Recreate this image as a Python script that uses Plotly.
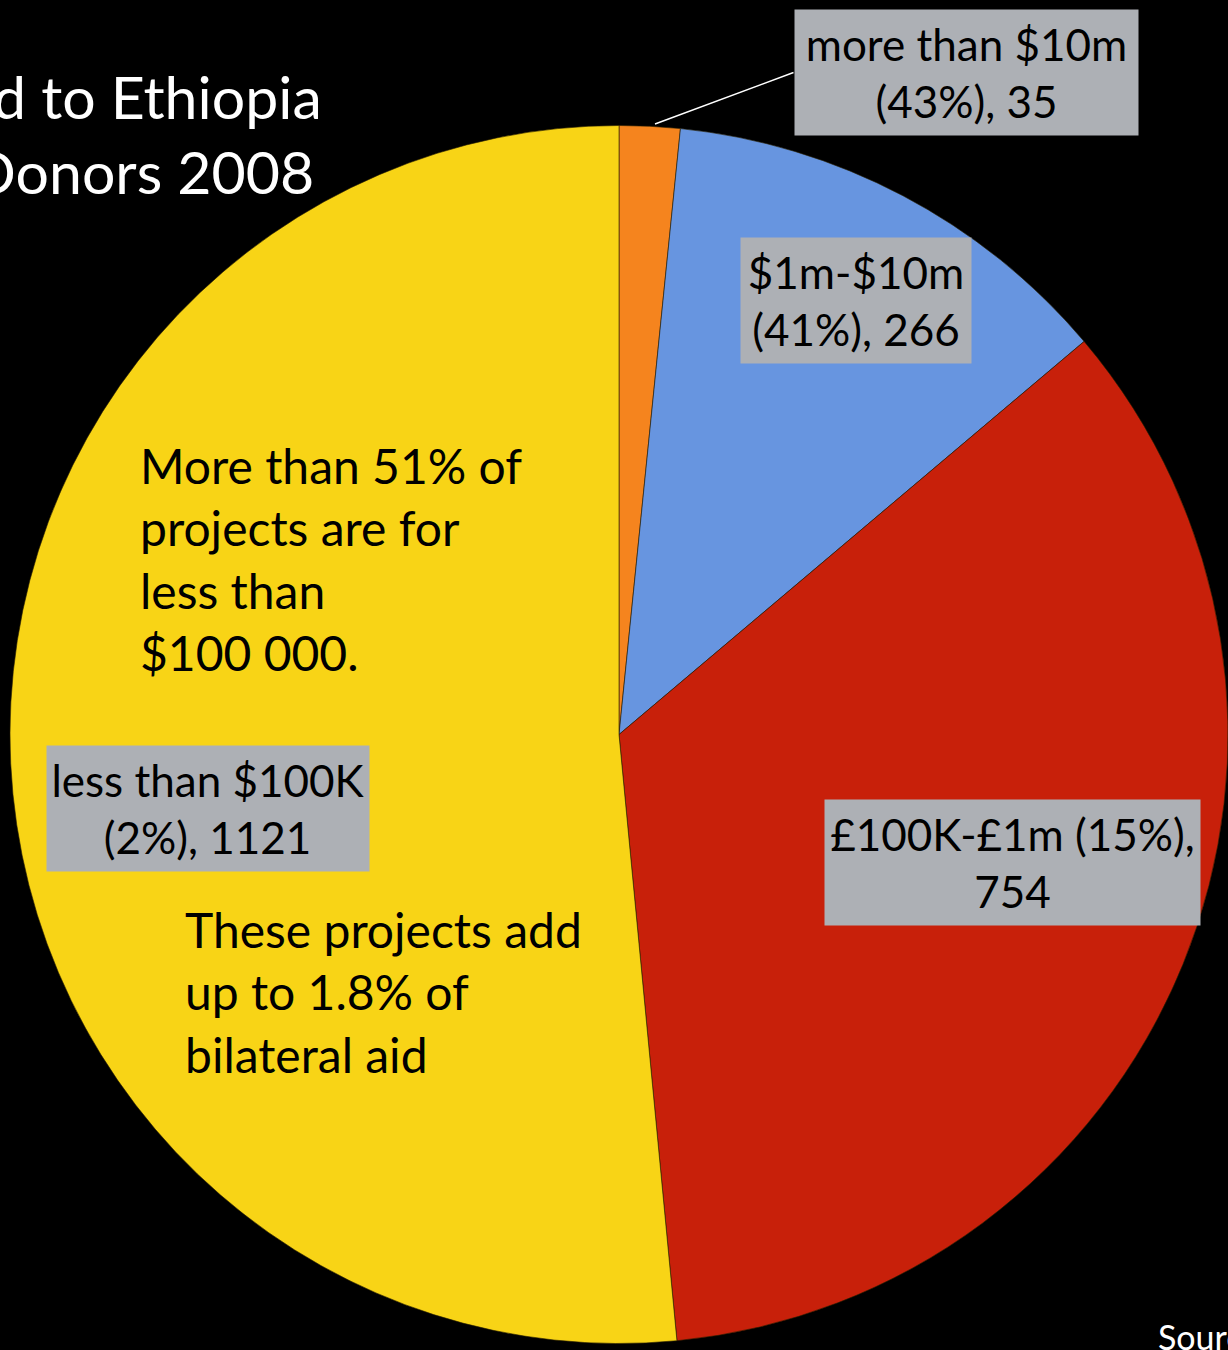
import plotly.graph_objects as go

# ---- data ----
categories = ["more than $10m", "$1m-$10m", "£100K-£1m", "less than $100K"]
project_counts = [35, 266, 754, 1121]
value_shares = ["43%", "41%", "15%", "2%"]
slice_colors = ["#F5841E", "#6795E0", "#C8200A", "#F8D416"]
break_after_share = [False, False, True, False]

title_lines = ["Aid to Ethiopia", "Bilateral Donors 2008"]
note_top = "More than 51% of<br>projects are for<br>less than<br>$100 000."
note_bottom = "These projects add<br>up to 1.8% of<br>bilateral aid"
source_text = "Source: OECD CRS"

W, H = 1228, 1350


def px(x):
    return x / W


def py(y):
    return 1 - y / H


def label_text(cat, share, count, brk):
    if brk:
        return f"{cat} ({share}),<br>{count}"
    return f"{cat}<br>({share}), {count}"


labels = [label_text(c, s, n, b) for c, s, n, b in
          zip(categories, value_shares, project_counts, break_after_share)]

fig = go.Figure()
fig.add_trace(go.Pie(
    labels=categories,
    values=project_counts,
    sort=False,
    direction="clockwise",
    rotation=0,
    textinfo="none",
    hoverinfo="label+value",
    marker=dict(colors=slice_colors, line=dict(color="rgba(40,30,0,0.6)", width=1)),
    domain=dict(x=[10 / W, 1], y=[(H - 1343.5) / H, (H - 125.5) / H]),
    showlegend=False,
))

FONT = "Lato"
annotations = []

# label boxes: (center x, center y, width, height)
box_geom = [(966.5, 72.5, 343, 125), (856, 300.5, 230, 125),
            (1012.5, 862.5, 375, 125), (208, 808.5, 322, 125)]
for txt, (cx, cy, bw, bh) in zip(labels, box_geom):
    annotations.append(dict(
        x=px(cx), y=py(cy), xref="paper", yref="paper",
        text=txt, showarrow=False, xanchor="center", yanchor="middle",
        width=bw, height=bh, borderpad=0, bgcolor="#ADB0B5",
        font=dict(family=FONT, size=44, color="#000000"), align="center",
    ))

# leader line for the small slice
annotations.append(dict(
    x=px(655), y=py(124), xref="paper", yref="paper",
    ax=795 - 655, ay=72 - 124,
    text="", showarrow=True, arrowhead=0, arrowwidth=1.5, arrowcolor="#FFFFFF",
))

# notes on the yellow slice
annotations.append(dict(
    x=px(138), y=py(559), xref="paper", yref="paper", text=note_top,
    showarrow=False, xanchor="left", yanchor="middle", align="left",
    font=dict(family=FONT, size=48, color="#000000"),
))
annotations.append(dict(
    x=px(183), y=py(991.5), xref="paper", yref="paper", text=note_bottom,
    showarrow=False, xanchor="left", yanchor="middle", align="left",
    font=dict(family=FONT, size=48, color="#000000"),
))

# title (cut off at left, as in the source slide)
annotations.append(dict(
    x=px(324), y=py(96), xref="paper", yref="paper", text=title_lines[0],
    showarrow=False, xanchor="right", yanchor="middle",
    font=dict(family=FONT, size=59, color="#FFFFFF"),
))
annotations.append(dict(
    x=px(316), y=py(171), xref="paper", yref="paper", text=title_lines[1],
    showarrow=False, xanchor="right", yanchor="middle",
    font=dict(family=FONT, size=59, color="#FFFFFF"),
))

# source (cut off at right, as in the source slide)
annotations.append(dict(
    x=px(1156), y=py(1336), xref="paper", yref="paper", text=source_text,
    showarrow=False, xanchor="left", yanchor="middle",
    font=dict(family=FONT, size=34, color="#FFFFFF"),
))

fig.update_layout(
    width=W, height=H,
    margin=dict(l=0, r=0, t=0, b=0),
    paper_bgcolor="#000000", plot_bgcolor="#000000",
    annotations=annotations,
    showlegend=False,
)

fig.write_html("out.html")
